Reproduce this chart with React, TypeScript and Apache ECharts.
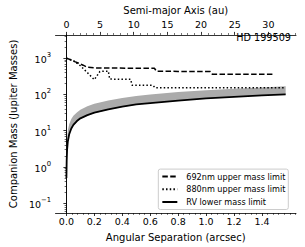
import React, { useEffect, useRef } from "react";
import * as echarts from "echarts";

// ---- Data ----
const ARCSEC_TICKS = [0, 0.2, 0.4, 0.6, 0.8, 1.0, 1.2, 1.4];
const AU_TICKS = [0, 5, 10, 15, 20, 25, 30];
const MASS_TICKS = [0.1, 1, 10, 100, 1000];

// 692nm upper mass limit (dashed)
const LIM692_X = [0, 0.03, 0.06, 0.09, 0.12, 0.15, 0.2, 0.3, 0.45, 0.63, 0.645, 0.8, 1.03, 1.045, 1.3, 1.48];
const LIM692_Y = [1000, 900, 800, 720, 640, 560, 540, 535, 530, 528, 435, 432, 430, 362, 360, 360];

// 880nm upper mass limit (dotted)
const LIM880_X = [0, 0.05, 0.1, 0.15, 0.2, 0.24, 0.3, 0.31, 0.46, 0.47, 0.62, 0.635, 1.0, 1.57];
const LIM880_Y = [1000, 850, 620, 400, 255, 430, 440, 265, 262, 180, 178, 152, 152, 152];

// RV lower mass limit (solid)
const RV_X = [0, 0.002, 0.005, 0.01, 0.02, 0.035, 0.05, 0.075, 0.1, 0.15, 0.2, 0.3, 0.4, 0.5, 0.6, 0.8, 1.0, 1.2, 1.4, 1.57];
const RV_Y = [0.5, 1.5, 3, 5, 8, 11.5, 14.5, 18.5, 22, 27, 31.5, 39, 46, 53, 58, 68, 78, 86, 94, 101];

// RV mass distribution band (grey)
const BAND_X = [0.002, 0.005, 0.01, 0.02, 0.035, 0.05, 0.075, 0.1, 0.15, 0.2, 0.3, 0.4, 0.5, 0.6, 0.8, 1.0, 1.2, 1.4, 1.57];
const BAND_UPPER = [2.5, 6, 10, 15, 21, 26, 32, 38, 47, 55, 68, 80, 90, 100, 116, 130, 143, 155, 167];
const BAND_LOWER = [1.3, 2.7, 4.6, 7.4, 10.8, 13.6, 17.5, 21, 26, 30.5, 38, 45, 52, 57, 67, 77, 85, 93, 100];

const X_MIN = -0.078;
const X_MAX = 1.644;
const AU_PER_ARCSEC = 20.74;
const Y_MIN = Math.pow(10, -1.267);
const Y_MAX = Math.pow(10, 3.641);

const FONT = "DejaVu Sans";

function minorList(start: number, end: number, step: number, majors: number[]) {
  const out: number[] = [];
  for (let v = start; v <= end + 1e-9; v += step) {
    const r = Math.round(v * 1000) / 1000;
    if (!majors.some((m) => Math.abs(m - r) < 1e-6)) out.push(r);
  }
  return out;
}

function logMinor() {
  const out: number[] = [];
  for (let e = -2; e <= 3; e++) {
    for (let k = 2; k <= 9; k++) {
      const v = k * Math.pow(10, e);
      if (v >= Y_MIN && v <= Y_MAX) out.push(v);
    }
  }
  return out;
}

const pairs = (xs: number[], ys: number[]) => xs.map((x, i) => [x, ys[i]]);

export default function App() {
  const ref = useRef<HTMLDivElement>(null);
  useEffect(() => {
    if (!ref.current) return;
    const chart = echarts.init(ref.current, null, { renderer: "svg" });
    const axisLine = { show: true, lineStyle: { color: "#000", width: 0.8 } };
    const noLine = { show: false };
    const labelStyle = { color: "#000", fontFamily: FONT, fontSize: 9.5 };

    const option: any = {
      animation: false,
      backgroundColor: "#fff",
      color: ["#000", "#000", "#000", "#000"],
      textStyle: { fontFamily: FONT },
      grid: { left: 46, right: 9, top: 28, bottom: 33, containLabel: false },
      xAxis: [
        {
          type: "value",
          position: "bottom",
          min: X_MIN,
          max: X_MAX,
          name: "Angular Separation (arcsec)",
          nameLocation: "middle",
          nameGap: 19,
          nameTextStyle: { color: "#000", fontFamily: FONT, fontSize: 10 },
          axisLine,
          splitLine: { show: false },
          axisTick: { show: true, inside: false, length: 3, customValues: ARCSEC_TICKS, lineStyle: { color: "#000", width: 0.8 } },
          axisLabel: { ...labelStyle, margin: 3.5, customValues: ARCSEC_TICKS, formatter: (v: number) => v.toFixed(1) },
        },
        {
          type: "value",
          position: "bottom",
          min: X_MIN,
          max: X_MAX,
          axisLine: noLine,
          splitLine: { show: false },
          axisTick: { show: true, length: 1.8, customValues: minorList(0, 1.64, 0.04, ARCSEC_TICKS), lineStyle: { color: "#000", width: 0.6 } },
          axisLabel: { show: false },
        },
        {
          type: "value",
          position: "top",
          min: X_MIN * AU_PER_ARCSEC,
          max: X_MAX * AU_PER_ARCSEC,
          name: "Semi-major Axis (au)",
          nameLocation: "middle",
          nameGap: 15.5,
          nameTextStyle: { color: "#000", fontFamily: FONT, fontSize: 10 },
          axisLine,
          splitLine: { show: false },
          axisTick: { show: true, length: 3, customValues: AU_TICKS, lineStyle: { color: "#000", width: 0.8 } },
          axisLabel: { ...labelStyle, margin: 5, customValues: AU_TICKS, formatter: (v: number) => String(v) },
        },
        {
          type: "value",
          position: "top",
          min: X_MIN * AU_PER_ARCSEC,
          max: X_MAX * AU_PER_ARCSEC,
          axisLine: noLine,
          splitLine: { show: false },
          axisTick: { show: true, length: 1.8, customValues: minorList(0, 34, 1, AU_TICKS), lineStyle: { color: "#000", width: 0.6 } },
          axisLabel: { show: false },
        },
      ],
      yAxis: [
        {
          type: "log",
          position: "left",
          min: Y_MIN,
          max: Y_MAX,
          name: "Companion Mass (Jupiter Masses)",
          nameLocation: "middle",
          nameGap: 28.7,
          nameTextStyle: { color: "#000", fontFamily: FONT, fontSize: 10 },
          axisLine,
          splitLine: { show: false },
          axisTick: { show: true, length: 3, customValues: MASS_TICKS, lineStyle: { color: "#000", width: 0.8 } },
          axisLabel: {
            ...labelStyle,
            margin: 4.5,
            customValues: MASS_TICKS,
            formatter: (v: number) => {
              const e = Math.round(Math.log10(v));
              return `{b|10}{s|${e < 0 ? "\u2212" + -e : e}}`;
            },
            rich: {
              b: { fontSize: 9.5, fontFamily: FONT, color: "#000", verticalAlign: "bottom", lineHeight: 13 },
              s: { fontSize: 6.8, fontFamily: FONT, color: "#000", verticalAlign: "top", lineHeight: 13 },
            },
          },
        },
        {
          type: "log",
          position: "left",
          min: Y_MIN,
          max: Y_MAX,
          axisLine: noLine,
          splitLine: { show: false },
          axisTick: { show: true, length: 1.8, customValues: logMinor(), lineStyle: { color: "#000", width: 0.6 } },
          axisLabel: { show: false },
        },
        {
          type: "log",
          position: "right",
          min: Y_MIN,
          max: Y_MAX,
          axisLine,
          splitLine: { show: false },
          axisTick: { show: false },
          axisLabel: { show: false },
        },
      ],
      legend: {
        data: ["692nm upper mass limit", "880nm upper mass limit", "RV lower mass limit"],
        orient: "vertical",
        right: 16.7,
        bottom: 37.5,
        align: "left",
        padding: [3, 3, 3, 3],
        itemWidth: 15,
        itemHeight: 9,
        itemGap: 3.7,
        backgroundColor: "#fff",
        borderColor: "#cccccc",
        borderWidth: 1,
        borderRadius: 2,
        itemStyle: { opacity: 0 },
        textStyle: { color: "#000", fontFamily: FONT, fontSize: 8.1, lineHeight: 9, padding: [0, 0, 0, 4] },
      },
      graphic: [
        {
          type: "text",
          right: 14,
          top: 32,
          z: 10,
          style: { text: "HD 199509", fill: "#000", font: `9.7px "${FONT}"` },
        },
      ],
      series: [
        {
          type: "custom",
          name: "band",
          xAxisIndex: 0,
          yAxisIndex: 0,
          silent: true,
          z: 1,
          data: pairs(BAND_X, BAND_UPPER),
          renderItem: (params: any, api: any) => {
            if (params.dataIndex !== 0) return null;
            const top = BAND_X.map((x, i) => api.coord([x, BAND_UPPER[i]]));
            const bot = BAND_X.map((x, i) => api.coord([x, BAND_LOWER[i]])).reverse();
            return { type: "polygon", shape: { points: top.concat(bot) }, style: { fill: "#ababab" } };
          },
        },
        {
          type: "line",
          name: "692nm upper mass limit",
          xAxisIndex: 0,
          yAxisIndex: 0,
          data: pairs(LIM692_X, LIM692_Y),
          showSymbol: false,
          symbol: "none",
          symbolSize: 0,
          itemStyle: { color: "#000" },
          z: 3,
          lineStyle: { color: "#000", width: 1.5, type: [5.5, 2.4] },
        },
        {
          type: "line",
          name: "880nm upper mass limit",
          xAxisIndex: 0,
          yAxisIndex: 0,
          data: pairs(LIM880_X, LIM880_Y),
          showSymbol: false,
          symbol: "none",
          symbolSize: 0,
          itemStyle: { color: "#000" },
          z: 3,
          lineStyle: { color: "#000", width: 1.5, type: [1.5, 2.2] },
        },
        {
          type: "line",
          name: "RV lower mass limit",
          xAxisIndex: 0,
          yAxisIndex: 0,
          data: pairs(RV_X, RV_Y),
          showSymbol: false,
          symbol: "none",
          symbolSize: 0,
          itemStyle: { color: "#000" },
          z: 4,
          lineStyle: { color: "#000", width: 1.8 },
        },
      ],
    };
    chart.setOption(option);
    return () => chart.dispose();
  }, []);
  return <div ref={ref} style={{ width: 305, height: 247, position: "absolute", left: 0, top: 0 }} />;
}
